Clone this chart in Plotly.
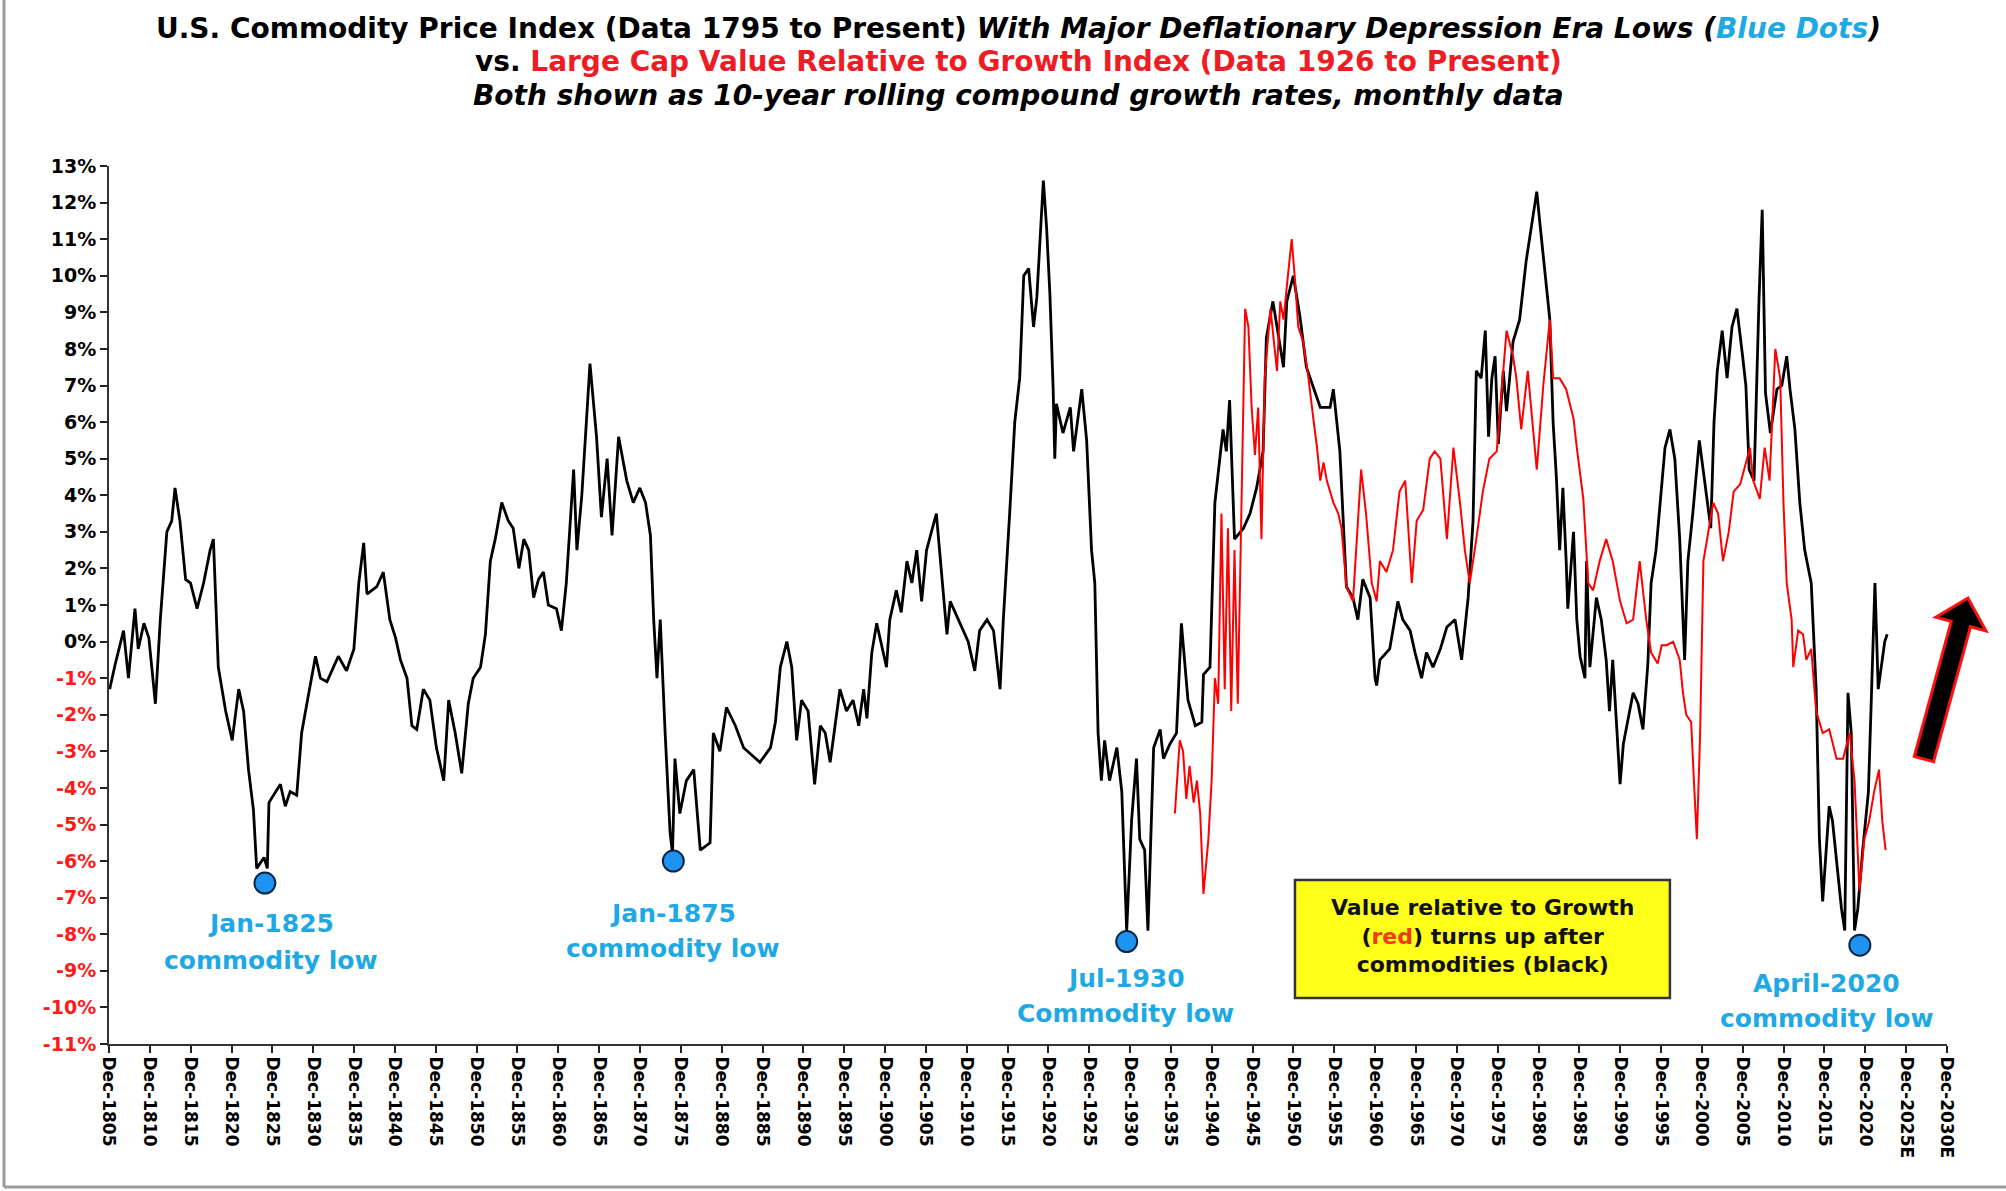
import math

import plotly.graph_objects as go

# 10-year rolling compound growth rate of the U.S. commodity price index (%)
black_years = [
    1806.0, 1806.7, 1807.7, 1808.3, 1809.1, 1809.5, 1810.2, 1810.8, 1811.6, 1812.2,
    1813.0, 1813.6, 1814.0, 1814.6, 1815.3, 1815.9, 1816.7, 1817.5, 1818.3, 1818.7,
    1819.3, 1820.2, 1821.0, 1821.8, 1822.4, 1823.0, 1823.6, 1824.0, 1824.9, 1825.3,
    1825.5, 1826.1, 1826.9, 1827.5, 1828.1, 1828.9, 1829.5, 1830.3, 1831.2, 1831.8,
    1832.6, 1833.4, 1834.0, 1835.0, 1835.9, 1836.5, 1837.1, 1837.5, 1838.7, 1839.5,
    1840.3, 1841.0, 1841.6, 1842.4, 1843.0, 1843.6, 1844.4, 1845.2, 1846.0, 1846.9,
    1847.5, 1848.3, 1849.1, 1849.9, 1850.5, 1851.4, 1852.0, 1852.6, 1853.2, 1854.0,
    1854.8, 1855.4, 1856.1, 1856.7, 1857.3, 1857.9, 1858.5, 1859.1, 1859.7, 1860.7,
    1861.3, 1861.9, 1862.8, 1863.2, 1863.8, 1864.8, 1865.6, 1866.2, 1866.9, 1867.5,
    1868.3, 1869.3, 1870.1, 1870.9, 1871.6, 1872.2, 1872.6, 1873.0, 1873.4, 1874.0,
    1874.6, 1874.9, 1875.2, 1875.8, 1876.6, 1877.5, 1878.3, 1879.5, 1879.9, 1880.7,
    1881.5, 1882.6, 1883.6, 1884.6, 1885.6, 1886.9, 1887.5, 1888.1, 1888.9, 1889.5,
    1890.1, 1890.7, 1891.5, 1892.3, 1893.0, 1893.6, 1894.2, 1894.8, 1895.4, 1896.2,
    1897.0, 1897.7, 1898.3, 1898.7, 1899.3, 1899.9, 1900.7, 1901.1, 1901.5, 1902.3,
    1902.9, 1903.6, 1904.2, 1904.8, 1905.4, 1906.0, 1906.6, 1907.2, 1908.1, 1908.5,
    1908.9, 1910.1, 1911.1, 1911.9, 1912.5, 1913.4, 1914.2, 1915.0, 1915.4, 1916.2,
    1916.8, 1917.4, 1917.9, 1918.5, 1919.1, 1919.5, 1919.9, 1920.3, 1920.7, 1921.1,
    1921.5, 1921.7, 1921.9, 1922.7, 1923.6, 1924.0, 1925.0, 1925.6, 1926.2, 1926.6,
    1927.0, 1927.4, 1927.8, 1928.4, 1929.3, 1929.9, 1930.5, 1931.1, 1931.7, 1932.1,
    1932.7, 1933.1, 1933.8, 1934.6, 1935.0, 1935.8, 1936.6, 1937.2, 1938.0, 1938.9,
    1939.7, 1939.9, 1940.7, 1941.3, 1942.3, 1942.7, 1943.1, 1943.7, 1944.8, 1945.6,
    1946.4, 1947.2, 1947.6, 1948.4, 1949.7, 1950.1, 1950.9, 1951.7, 1952.5, 1953.4,
    1954.2, 1955.4, 1955.8, 1956.6, 1957.0, 1957.4, 1958.2, 1958.8, 1959.4, 1960.3,
    1960.9, 1961.1, 1961.5, 1962.7, 1963.7, 1964.3, 1965.2, 1965.8, 1966.6, 1967.2,
    1968.0, 1968.9, 1969.7, 1970.7, 1971.5, 1972.3, 1972.9, 1973.3, 1973.9, 1974.4,
    1974.8, 1975.2, 1975.6, 1976.0, 1976.6, 1977.0, 1977.8, 1978.6, 1979.4, 1980.0,
    1980.7, 1981.1, 1981.7, 1982.3, 1982.7, 1983.1, 1983.5, 1983.9, 1984.3, 1984.5,
    1985.2, 1985.6, 1986.0, 1986.6, 1986.8, 1987.2, 1988.0, 1988.6, 1989.2, 1989.6,
    1990.0, 1990.5, 1990.9, 1991.3, 1991.7, 1992.5, 1993.1, 1993.7, 1994.3, 1994.7,
    1995.3, 1996.4, 1997.0, 1997.6, 1998.2, 1998.8, 1999.2, 1999.8, 2000.6, 2001.2,
    2002.0, 2002.4, 2002.8, 2003.4, 2004.0, 2004.6, 2005.2, 2005.9, 2006.3, 2006.7,
    2007.3, 2007.9, 2008.3, 2008.7, 2009.3, 2010.1, 2010.7, 2011.3, 2011.7, 2012.3,
    2012.9, 2013.5, 2014.3, 2014.9, 2015.3, 2015.7, 2016.1, 2016.5, 2016.9, 2017.6,
    2018.0, 2018.4, 2018.8, 2019.2, 2019.6, 2020.0, 2020.6, 2021.3, 2021.7, 2022.1,
    2022.5, 2022.9, 2023.3, 2023.6,
]
black_values = [
    -1.3, -0.6, 0.3, -1.0, 0.9, -0.2, 0.5, 0.1, -1.7, 0.6,
    3.0, 3.3, 4.2, 3.3, 1.7, 1.6, 0.9, 1.6, 2.5, 2.8,
    -0.7, -1.9, -2.7, -1.3, -1.9, -3.5, -4.6, -6.2, -5.9, -6.2,
    -4.4, -4.2, -3.9, -4.5, -4.1, -4.2, -2.5, -1.5, -0.4, -1.0,
    -1.1, -0.7, -0.4, -0.8, -0.2, 1.6, 2.7, 1.3, 1.5, 1.9,
    0.6, 0.1, -0.5, -1.0, -2.3, -2.4, -1.3, -1.6, -2.9, -3.8,
    -1.6, -2.5, -3.6, -1.7, -1.0, -0.7, 0.2, 2.2, 2.8, 3.8,
    3.3, 3.1, 2.0, 2.8, 2.5, 1.2, 1.7, 1.9, 1.0, 0.9,
    0.3, 1.6, 4.7, 2.5, 4.0, 7.6, 5.6, 3.4, 5.0, 2.9,
    5.6, 4.4, 3.8, 4.2, 3.8, 2.9, 0.6, -1.0, 0.6, -2.5,
    -5.2, -5.8, -3.2, -4.7, -3.8, -3.5, -5.7, -5.5, -2.5, -3.0,
    -1.8, -2.3, -2.9, -3.1, -3.3, -2.9, -2.2, -0.7, 0.0, -0.7,
    -2.7, -1.6, -1.9, -3.9, -2.3, -2.5, -3.3, -2.3, -1.3, -1.9,
    -1.6, -2.3, -1.3, -2.1, -0.3, 0.5, -0.3, -0.7, 0.6, 1.4,
    0.8, 2.2, 1.6, 2.5, 1.1, 2.5, 3.0, 3.5, 1.2, 0.2,
    1.1, 0.5, 0.0, -0.8, 0.3, 0.6, 0.3, -1.3, 0.6, 3.6,
    6.0, 7.2, 10.0, 10.2, 8.6, 9.4, 11.0, 12.6, 11.3, 9.5,
    6.9, 5.0, 6.5, 5.7, 6.4, 5.2, 6.9, 5.5, 2.5, 1.6,
    -2.5, -3.8, -2.7, -3.8, -2.9, -4.1, -7.9, -4.9, -3.2, -5.4,
    -5.7, -7.9, -2.9, -2.4, -3.2, -2.8, -2.5, 0.5, -1.6, -2.3,
    -2.2, -0.9, -0.7, 3.8, 5.8, 5.2, 6.6, 2.8, 3.1, 3.5,
    4.2, 5.2, 8.3, 9.3, 7.5, 9.3, 10.0, 8.9, 7.5, 6.9,
    6.4, 6.4, 6.9, 5.2, 3.4, 1.5, 1.2, 0.6, 1.7, 1.2,
    -1.0, -1.2, -0.5, -0.2, 1.1, 0.6, 0.3, -0.3, -1.0, -0.3,
    -0.7, -0.2, 0.4, 0.6, -0.5, 1.2, 3.3, 7.4, 7.2, 8.5,
    5.6, 7.2, 7.8, 5.4, 7.4, 6.3, 8.2, 8.8, 10.4, 11.3,
    12.3, 11.4, 10.1, 8.8, 6.0, 4.5, 2.5, 4.2, 2.2, 0.9,
    3.0, 0.6, -0.4, -1.0, 2.2, -0.7, 1.2, 0.6, -0.5, -1.9,
    -0.5, -2.5, -3.9, -2.8, -2.3, -1.4, -1.7, -2.4, -0.6, 1.6,
    2.5, 5.3, 5.8, 5.0, 2.8, -0.5, 2.2, 3.5, 5.5, 4.4,
    3.1, 6.0, 7.4, 8.5, 7.2, 8.6, 9.1, 7.8, 7.0, 4.7,
    4.4, 9.3, 11.8, 6.8, 5.7, 6.9, 7.0, 7.8, 6.9, 5.8,
    3.8, 2.5, 1.6, -1.3, -5.4, -7.1, -5.7, -4.5, -4.9, -6.5,
    -7.3, -7.9, -1.4, -2.5, -7.9, -7.3, -5.7, -4.1, -1.0, 1.6,
    -1.3, -0.7, 0.0, 0.2,
]

# 10-year rolling compound growth rate, large cap value relative to growth (%)
red_years = [
    1936.4, 1937.0, 1937.4, 1937.8, 1938.2, 1938.7, 1939.1, 1939.5, 1939.9, 1940.5,
    1940.9, 1941.3, 1941.7, 1942.1, 1942.5, 1942.9, 1943.3, 1943.7, 1944.1, 1944.6,
    1945.0, 1945.4, 1945.8, 1946.2, 1946.6, 1947.0, 1947.4, 1948.1, 1948.9, 1949.3,
    1949.7, 1950.1, 1950.7, 1951.1, 1951.5, 1952.1, 1952.7, 1953.4, 1953.8, 1954.2,
    1954.6, 1955.0, 1955.8, 1956.4, 1956.8, 1957.4, 1958.2, 1959.2, 1959.8, 1960.5,
    1961.1, 1961.5, 1962.3, 1963.1, 1963.9, 1964.6, 1965.4, 1966.0, 1966.8, 1967.6,
    1968.2, 1968.9, 1969.7, 1970.5, 1971.3, 1971.9, 1972.5, 1973.3, 1974.1, 1974.9,
    1975.8, 1976.2, 1977.0, 1977.8, 1978.2, 1978.8, 1979.6, 1980.7, 1981.5, 1982.3,
    1982.7, 1983.5, 1984.3, 1985.2, 1985.6, 1986.4, 1987.0, 1987.6, 1988.4, 1989.2,
    1990.0, 1990.9, 1991.7, 1992.5, 1993.3, 1994.1, 1994.7, 1995.5, 1996.0, 1996.6,
    1997.4, 1998.2, 1998.6, 1999.0, 1999.6, 2000.0, 2000.3, 2000.7, 2001.1, 2001.7,
    2002.3, 2002.9, 2003.5, 2004.2, 2004.8, 2005.6, 2006.4, 2006.8, 2007.2, 2008.0,
    2008.6, 2009.2, 2009.9, 2010.5, 2010.9, 2011.3, 2011.9, 2012.1, 2012.7, 2013.3,
    2013.7, 2014.3, 2014.9, 2015.7, 2016.5, 2017.4, 2018.2, 2019.0, 2019.6, 2020.2,
    2020.8, 2021.4, 2022.0, 2022.6, 2023.0, 2023.4,
]
red_values = [
    -4.7, -2.7, -3.0, -4.3, -3.4, -4.4, -3.8, -4.7, -6.9, -5.4,
    -3.8, -1.0, -1.7, 3.5, -1.3, 3.1, -1.9, 2.5, -1.7, 3.8,
    9.1, 8.6, 6.4, 5.1, 6.4, 2.8, 7.2, 9.1, 7.4, 9.3,
    8.8, 9.7, 11.0, 9.9, 8.6, 8.2, 7.3, 6.0, 5.3, 4.4,
    4.9, 4.4, 3.8, 3.5, 3.1, 1.5, 1.1, 4.7, 3.5, 1.6,
    1.1, 2.2, 1.9, 2.5, 4.1, 4.4, 1.6, 3.3, 3.6, 5.0,
    5.2, 5.0, 2.8, 5.3, 3.8, 2.5, 1.6, 2.8, 4.1, 5.0,
    5.2, 6.3, 8.5, 7.8, 7.2, 5.8, 7.4, 4.7, 7.0, 8.8,
    7.2, 7.2, 6.9, 6.1, 5.3, 3.9, 1.6, 1.4, 2.2, 2.8,
    2.2, 1.1, 0.5, 0.6, 2.2, 0.6, -0.3, -0.6, -0.1, -0.1,
    0.0, -0.5, -1.4, -2.0, -2.2, -4.1, -5.4, -2.5, 2.2, 3.0,
    3.8, 3.5, 2.2, 3.0, 4.1, 4.3, 5.0, 5.3, 4.4, 3.9,
    5.3, 4.4, 8.0, 7.2, 3.8, 1.6, 0.6, -0.7, 0.3, 0.2,
    -0.5, -0.2, -1.9, -2.5, -2.4, -3.2, -3.2, -2.5, -3.8, -6.8,
    -5.4, -4.9, -4.1, -3.5, -4.9, -5.7,
]

# major deflationary depression era lows (blue dots)
low_years = [1825.0, 1875.0, 1930.5, 2020.25]
low_values = [-6.6, -6.0, -8.2, -8.3]
low_line1 = ["Jan-1825", "Jan-1875", "Jul-1930", "April-2020"]
low_line2 = ["commodity low", "commodity low", "Commodity low", "commodity low"]

tick_years = [1805.92 + 5 * i for i in range(46)]
tick_labels = [f"Dec-{1805 + 5 * i}" + ("E" if 1805 + 5 * i > 2020 else "") for i in range(46)]
y_ticks = list(range(-11, 14))

CYAN = "#1fa9e4"
RED = "#ff1a1a"
FONT = "DejaVu Sans"

# plot area in page pixels
L, R, T, B = 109, 1947, 166, 1044


def px_to_paper(x, y):
    return (x - L) / (R - L), (B - y) / (B - T)


fig = go.Figure()
fig.add_trace(go.Scatter(x=black_years, y=black_values, mode="lines",
                         line=dict(color="black", width=2.8), hoverinfo="skip"))
fig.add_trace(go.Scatter(x=red_years, y=red_values, mode="lines",
                         line=dict(color="#ff0000", width=2), hoverinfo="skip"))
fig.add_trace(go.Scatter(x=low_years, y=low_values, mode="markers",
                         marker=dict(size=21, color="#1e93ef", line=dict(color="#0b2545", width=2)),
                         hoverinfo="skip"))

titles = [
    "<b>U.S. Commodity Price Index (Data 1795 to Present) <i>With Major Deflationary Depression Era Lows "
    f"(<span style='color:{CYAN}'>Blue Dots</span>)</i></b>",
    "<b>vs. <span style='color:#ee1c24'>Large Cap Value Relative to Growth Index (Data 1926 to Present)</span></b>",
    "<b><i>Both shown as 10-year rolling compound growth rates, monthly data</i></b>",
]
for text, ypx in zip(titles, [28, 62, 96]):
    fig.add_annotation(text=text, xref="paper", yref="paper", x=px_to_paper(1018, 0)[0],
                       y=px_to_paper(0, ypx)[1], showarrow=False, xanchor="center", yanchor="middle",
                       font=dict(family=FONT, size=28, color="black"))

# cyan labels under the blue dots: (center x in years, line-1 value, line-2 value)
label_pos = [(1825.8, -7.71, -8.72), (1875.0, -7.43, -8.38), (1930.4, -9.21, -10.16), (2016.2, -9.35, -10.30)]
for (lx, y1, y2), t1, t2 in zip(label_pos, low_line1, low_line2):
    for text, ly in ((t1, y1), (t2, y2)):
        fig.add_annotation(text=f"<b>{text}</b>", x=lx, y=ly, showarrow=False, xanchor="center",
                           yanchor="middle", font=dict(family=FONT, size=25, color=CYAN))

# yellow note box
fig.add_shape(type="rect", x0=1951.1, x1=1997.0, y0=-9.74, y1=-6.52,
              fillcolor="#ffff1a", line=dict(color="#333333", width=2.5))
fig.add_annotation(text="<b>Value relative to Growth<br>(<span style='color:#f23a12'>red</span>) turns up after"
                        "<br>commodities (black)</b>",
                   x=1974.05, y=-8.05, showarrow=False, xanchor="center", yanchor="middle",
                   font=dict(family=FONT, size=22, color="#111111"))

# black up-arrow with red outline, right of the plot
tx, ty, hx, hy = 1924, 759, 1968, 598
ln = math.hypot(hx - tx, hy - ty)
ux, uy = (hx - tx) / ln, (hy - ty) / ln
nx, ny = -uy, ux
bx, by = hx - ux * 27, hy - uy * 27
pts = [(tx + nx * 10, ty + ny * 10), (bx + nx * 10, by + ny * 10), (bx + nx * 26, by + ny * 26), (hx, hy),
       (bx - nx * 26, by - ny * 26), (bx - nx * 10, by - ny * 10), (tx - nx * 10, ty - ny * 10)]
path = "M " + " L ".join("%.4f,%.4f" % px_to_paper(x, y) for x, y in pts) + " Z"
fig.add_shape(type="path", xref="paper", yref="paper", path=path, fillcolor="black",
              line=dict(color="#ff1010", width=3))

# picture frame (left and bottom grey edges)
fl, fb = px_to_paper(4, 0)[0], px_to_paper(0, 1187)[1]
fig.add_shape(type="line", xref="paper", yref="paper", x0=fl, x1=fl, y0=px_to_paper(0, 0)[1], y1=fb,
              line=dict(color="#9a9a9a", width=3))
fig.add_shape(type="line", xref="paper", yref="paper", x0=fl, x1=px_to_paper(2006, 0)[0], y0=fb, y1=fb,
              line=dict(color="#9a9a9a", width=3))

y_text = [f"<span style='color:{RED}'>{v}%</span>" if v < 0 else f"{v}%" for v in y_ticks]

fig.update_layout(
    width=2006, height=1191,
    margin=dict(l=L, r=2006 - R, t=T, b=1191 - B, autoexpand=False),
    paper_bgcolor="white", plot_bgcolor="white",
    showlegend=False,
    xaxis=dict(range=[1805.92, 2030.92], tickvals=tick_years, ticktext=tick_labels, tickangle=90,
               ticks="outside", ticklen=7, tickwidth=1.5, tickcolor="#222222",
               showline=True, linecolor="#333333", linewidth=2, showgrid=False, zeroline=False,
               tickfont=dict(family=FONT, size=17, color="black", weight="bold")),
    yaxis=dict(range=[-11, 13], tickvals=y_ticks, ticktext=y_text,
               ticks="outside", ticklen=7, tickwidth=1.5, tickcolor="#222222",
               showline=True, linecolor="#333333", linewidth=2, showgrid=False, zeroline=False,
               tickfont=dict(family=FONT, size=19, color="black", weight="bold")),
)

fig.write_html("out.html", config={"displayModeBar": False},
               post_script="document.body.style.margin='0';")
